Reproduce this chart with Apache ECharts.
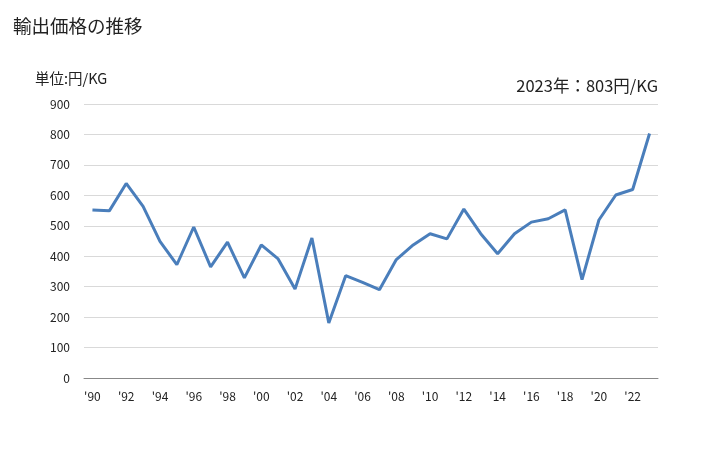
<!DOCTYPE html>
<html><head><meta charset="utf-8">
<script src="https://cdn.jsdelivr.net/npm/echarts@6/dist/echarts.min.js"></script>
<style>html,body{margin:0;padding:0;background:#fff}#c{width:728px;height:450px}</style>
</head><body><div id="c"></div>
<script>
var years = ['1990','1991','1992','1993','1994','1995','1996','1997','1998','1999','2000','2001','2002','2003','2004','2005','2006','2007','2008','2009','2010','2011','2012','2013','2014','2015','2016','2017','2018','2019','2020','2021','2022','2023'];
var values = [552,549,639,564,449,372,496,365,446,329,437,391,292,460,181,336,314,290,389,437,474,457,555,474,408,474,512,523,552,323,519,601,619,803];
var yTicks = [0,100,200,300,400,500,600,700,800,900];
var FONT = '"Noto Sans CJK JP","Noto Sans",sans-serif';
var chart = echarts.init(document.getElementById('c'));
chart.setOption({
  animation:false,
  title:[
    {text:'輸出価格の推移',left:13,top:17,padding:0,textStyle:{fontFamily:FONT,fontSize:18.5,fontWeight:'normal',color:'#222'}},
    {text:'単位:円/KG',left:35,top:71,padding:0,textStyle:{fontFamily:FONT,fontSize:14.5,fontWeight:'normal',color:'#222'}},
    {text:'2023年：803円/KG',right:70,top:77,padding:0,textStyle:{fontFamily:FONT,fontSize:16.5,fontWeight:'normal',color:'#222'}}
  ],
  grid:{left:84,right:70,top:104,bottom:72},
  xAxis:{type:'category',data:years,boundaryGap:true,
    axisLine:{lineStyle:{color:'#888',width:1}},axisTick:{show:false},
    axisLabel:{interval:1,color:'#222',fontFamily:FONT,fontSize:12,margin:12,formatter:function(v){return "'"+v.slice(2);}}},
  yAxis:{type:'value',min:yTicks[0],max:yTicks[yTicks.length-1],interval:100,
    axisLine:{show:false},axisTick:{show:false},
    axisLabel:{color:'#222',fontFamily:FONT,fontSize:12,margin:14},
    splitLine:{lineStyle:{color:'#d9d9d9',width:1}}},
  series:[{type:'line',data:values,symbol:'none',lineStyle:{color:'#4a7ebb',width:3}}]
});
</script></body></html>
